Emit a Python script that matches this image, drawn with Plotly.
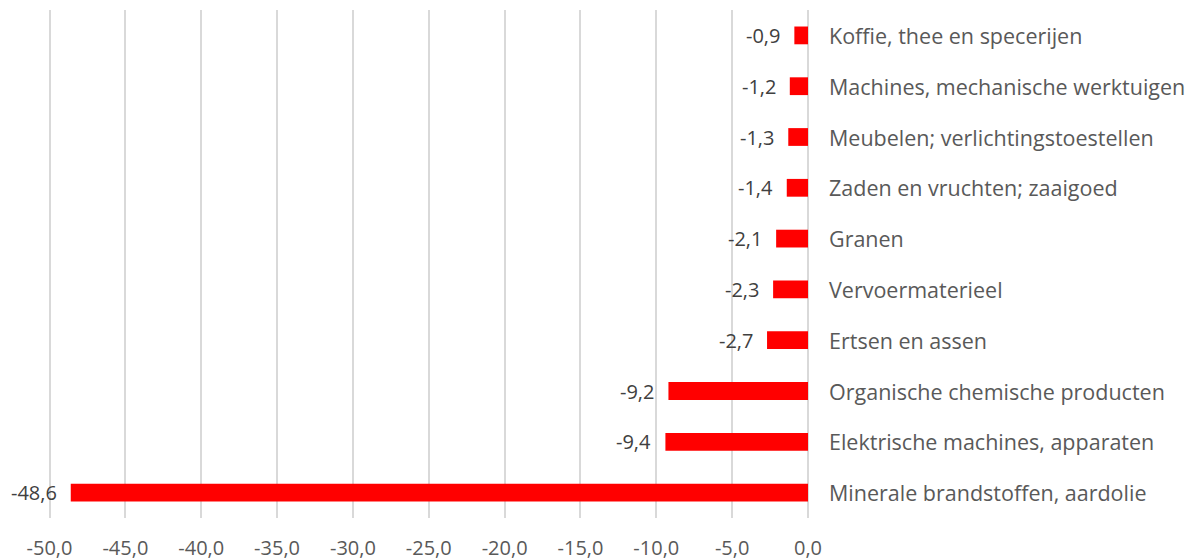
import plotly.graph_objects as go

categories = [
    "Minerale brandstoffen, aardolie",
    "Elektrische machines, apparaten",
    "Organische chemische producten",
    "Ertsen en assen",
    "Vervoermaterieel",
    "Granen",
    "Zaden en vruchten; zaaigoed",
    "Meubelen; verlichtingstoestellen",
    "Machines, mechanische werktuigen",
    "Koffie, thee en specerijen",
]
values = [-48.6, -9.4, -9.2, -2.7, -2.3, -2.1, -1.4, -1.3, -1.2, -0.9]
tick_vals = [-50, -45, -40, -35, -30, -25, -20, -15, -10, -5, 0]

FONT = "Open Sans"
TXT = "#404040"
CAT = "#595959"

labels = [f"{v:.1f}".replace(".", ",") for v in values]
tick_text = [f"{v:.1f}".replace(".", ",") for v in tick_vals]

fig = go.Figure(go.Bar(
    x=values, y=categories, orientation="h",
    marker=dict(color="#FF0000", line=dict(width=0)),
    hoverinfo="skip",
))

for c, v, t in zip(categories, values, labels):
    fig.add_annotation(x=0, y=c, xref="x", yref="y", text=c, showarrow=False,
                       xanchor="left", xshift=19,
                       font=dict(family=FONT, size=21.5, color=CAT))
    fig.add_annotation(x=v, y=c, xref="x", yref="y", text=t, showarrow=False,
                       xanchor="right", xshift=-12,
                       font=dict(family=FONT, size=20, color=TXT))

# page body has an 8px default margin; size the figure to fill the 1195x560 view
fig.update_layout(
    width=1187, height=552,
    margin=dict(l=40, r=387, t=2, b=42),
    paper_bgcolor="white", plot_bgcolor="white",
    bargap=0.65, showlegend=False,
    font=dict(family=FONT, size=20, color=TXT),
)
fig.update_xaxes(range=[-50.1, 0], tickvals=tick_vals, ticktext=tick_text,
                 automargin=False, layer="below traces",
                 showgrid=True, gridcolor="#D9D9D9", gridwidth=2,
                 zeroline=True, zerolinecolor="#D9D9D9", zerolinewidth=2,
                 showline=False,
                 ticks="outside", ticklen=12, tickcolor="rgba(0,0,0,0)",
                 tickfont=dict(family=FONT, size=20, color=CAT))
fig.update_yaxes(showticklabels=False, showgrid=False, zeroline=False, showline=False,
                 automargin=False, range=[-0.5, 9.5])

fig.write_html("out.html")
